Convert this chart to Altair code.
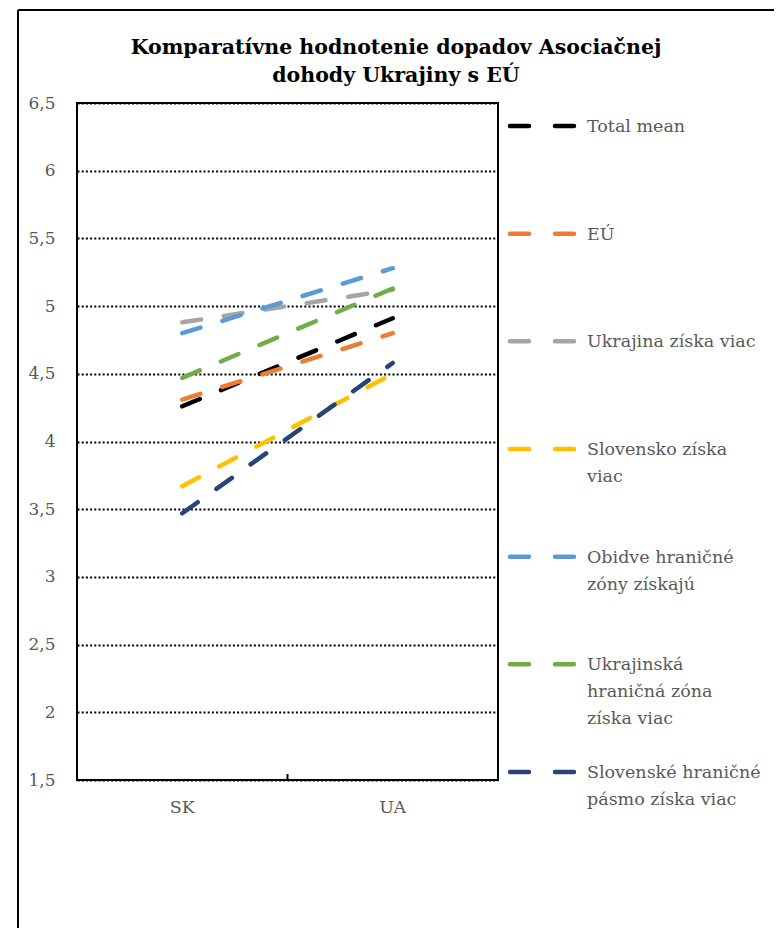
import altair as alt
import pandas as pd

categories = ["SK", "UA"]
series = [
    "Total mean",
    "EÚ",
    "Ukrajina získa viac",
    "Slovensko získa viac",
    "Obidve hraničné zóny získajú",
    "Ukrajinská hraničná zóna získa viac",
    "Slovenské hraničné pásmo získa viac",
]
legend_labels = [
    "Total mean",
    "EÚ",
    "Ukrajina získa viac",
    "Slovensko získa\nviac",
    "Obidve hraničné\nzóny získajú",
    "Ukrajinská\nhraničná zóna\nzíska viac",
    "Slovenské hraničné\npásmo získa viac",
]
sk_values = [4.26, 4.31, 4.88, 3.67, 4.80, 4.47, 3.47]
ua_values = [4.91, 4.80, 5.12, 4.50, 5.28, 5.13, 4.58]
colors = ["#000000", "#ED7D31", "#A5A5A5", "#FFC000", "#5B9BD5", "#70AD47", "#264478"]
y_ticks = [1.5, 2, 2.5, 3, 3.5, 4, 4.5, 5, 5.5, 6, 6.5]
title_text = "Komparatívne hodnotenie dopadov Asociačnej\ndohody Ukrajiny s EÚ"

rows = []
for s, a, b in zip(series, sk_values, ua_values):
    rows.append({"series": s, "cat": categories[0], "value": a})
    rows.append({"series": s, "cat": categories[1], "value": b})
df = pd.DataFrame(rows)

leg = pd.DataFrame({"series": series, "label": legend_labels, "idx": list(range(len(series)))})

FONT = "DejaVu Serif"
GREY = "#595959"
W, H = 421, 677

color_scale = alt.Scale(domain=series, range=colors)

x_enc = alt.X("cat:N", sort=categories,
              scale=alt.Scale(paddingInner=0, paddingOuter=0),
              axis=alt.Axis(title=None, labelAngle=0, domain=False, ticks=False,
                            labelFont=FONT, labelFontSize=17.5, labelColor=GREY,
                            labelPadding=18))
y_enc = alt.Y("value:Q",
              scale=alt.Scale(domain=[1.5, 6.5], nice=False, zero=False),
              axis=alt.Axis(title=None, values=y_ticks, domain=False, ticks=False,
                            labelExpr="replace(format(datum.value, '.1~f'), '.', ',')",
                            labelFont=FONT, labelFontSize=17, labelColor=GREY,
                            labelPadding=22,
                            grid=True, gridColor="#000000", gridDash=[2, 2.2],
                            gridWidth=2))

lines = alt.Chart(df).mark_line(strokeWidth=4.5, strokeDash=[19, 23], strokeCap="round").encode(
    x=x_enc,
    y=y_enc,
    color=alt.Color("series:N", scale=color_scale, legend=None),
    detail="series:N",
)

tick = alt.Chart(pd.DataFrame({"cat": ["UA"]})).mark_rule(color="#000000", strokeWidth=2).encode(
    x=alt.X("cat:N", sort=categories, bandPosition=0),
    y=alt.value(H),
    y2=alt.value(H - 6),
)

leg_y = alt.Y("idx:Q", scale=alt.Scale(domain=[0, 6], range=[23, 669]), axis=None)

leg_sym = alt.Chart(leg).mark_rule(strokeWidth=4.5, strokeDash=[19, 26], strokeCap="round").encode(
    x=alt.value(433),
    x2=alt.value(498),
    y=leg_y,
    color=alt.Color("series:N", scale=color_scale, legend=None),
)

leg_txt = alt.Chart(leg).mark_text(align="left", baseline="alphabetic", dy=6, font=FONT,
                                   fontSize=17.5, color=GREY, lineBreak="\n",
                                   lineHeight=27).encode(
    x=alt.value(510),
    y=leg_y,
    text="label:N",
)

one = pd.DataFrame({"t": [title_text]})
title = alt.Chart(one).mark_text(align="center", baseline="alphabetic", font=FONT, fontSize=20.5,
                                 fontWeight="bold", color="#000000", lineBreak="\n",
                                 lineHeight=28).encode(
    x=alt.value(319), y=alt.value(-49), text="t:N")

frame_top = alt.Chart(pd.DataFrame({"a": [0]})).mark_rule(color="#000000", strokeWidth=2).encode(
    x=alt.value(-59), x2=alt.value(710), y=alt.value(-93))
frame_left = alt.Chart(pd.DataFrame({"a": [0]})).mark_rule(color="#000000", strokeWidth=2).encode(
    x=alt.value(-59), y=alt.value(-93), y2=alt.value(840))

chart = alt.layer(frame_top, frame_left, title, lines, tick, leg_sym, leg_txt).resolve_scale(
    y="independent"
).properties(
    width=W,
    height=H,
    autosize=alt.AutoSizeParams(type="none"),
    padding={"left": 69, "top": 95, "right": 276, "bottom": 148},
).configure(background="white").configure_view(stroke="#000000", strokeWidth=2)

chart.save("out.html", embed_options={"renderer": "svg", "actions": False})
